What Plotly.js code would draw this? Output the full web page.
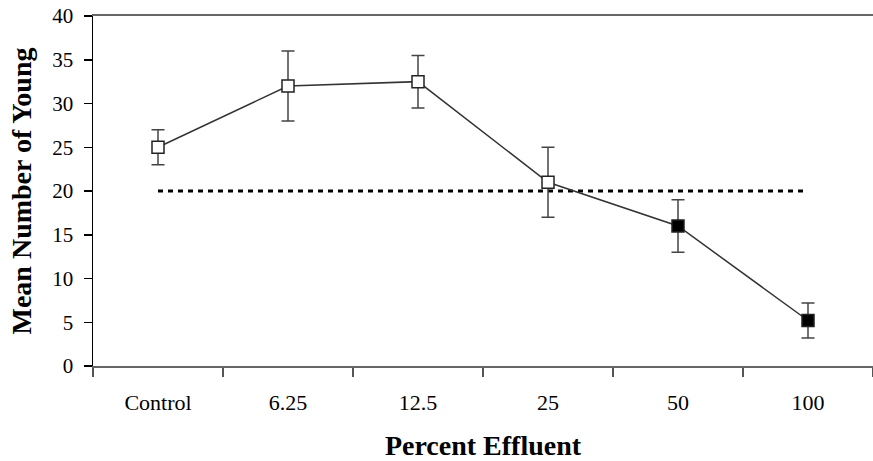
<!DOCTYPE html>
<html>
<head>
<meta charset="utf-8">
<script src="https://cdn.plot.ly/plotly-3.0.1.min.js"></script>
<style>html,body{margin:0;padding:0;background:#fff;}#chart{width:873px;height:461px;}</style>
</head>
<body>
<div id="chart"></div>
<script>
const categories = ["Control", "6.25", "12.5", "25", "50", "100"];
const meanYoung = [25, 32, 32.5, 21, 16, 5.2];
const errorYoung = [2, 4, 3, 4, 3, 2];
const markerFill = ["white", "white", "white", "white", "black", "black"];
const referenceX = ["Control", "100"];
const referenceY = [20, 20];

const refTrace = {
  x: referenceX, y: referenceY, type: "scatter", mode: "lines",
  line: {color: "#000", width: 3, dash: "5px,5px"},
  hoverinfo: "skip", showlegend: false
};
const mainTrace = {
  x: categories, y: meanYoung, type: "scatter", mode: "lines+markers",
  line: {color: "#333", width: 1.5},
  marker: {symbol: "square", size: 12, color: markerFill, line: {color: "#222", width: 1.5}},
  error_y: {type: "data", array: errorYoung, visible: true, color: "#444", thickness: 1.5, width: 6.5},
  showlegend: false
};

const layout = {
  width: 873, height: 461,
  margin: {l: 93, r: 0, t: 16, b: 95},
  paper_bgcolor: "#fff", plot_bgcolor: "#fff",
  font: {family: "Liberation Serif, Times New Roman, serif", color: "#000"},
  xaxis: {
    type: "category", categoryorder: "array", categoryarray: categories,
    range: [-0.5, 5.5],
    showgrid: false, zeroline: false,
    showline: true, linecolor: "#666", linewidth: 2, mirror: true,
    ticks: "outside", tickson: "boundaries", ticklen: 9, tickcolor: "#555", tickwidth: 1.5,
    tickfont: {size: 22, family: "Liberation Serif, serif", color: "#000"},
    ticklabelstandoff: 16,
    title: {text: "<b>Percent Effluent</b>", font: {size: 28, family: "Liberation Serif, serif", color: "#000"}, standoff: 24},
    automargin: false
  },
  yaxis: {
    range: [0, 40], dtick: 5, tick0: 0,
    showgrid: false, zeroline: false,
    showline: true, linecolor: "#000", linewidth: 1.5,
    ticks: "outside", ticklen: 8, tickcolor: "#000", tickwidth: 1.5,
    tickfont: {size: 21, family: "Liberation Serif, serif", color: "#000"},
    ticklabelstandoff: 6,
    title: {text: "<b>Mean Number of Young</b>", font: {size: 28, family: "Liberation Serif, serif", color: "#000"}, standoff: 12},
    automargin: false
  }
};

Plotly.newPlot("chart", [refTrace, mainTrace], layout, {staticPlot: true, displayModeBar: false});
</script>
</body>
</html>
